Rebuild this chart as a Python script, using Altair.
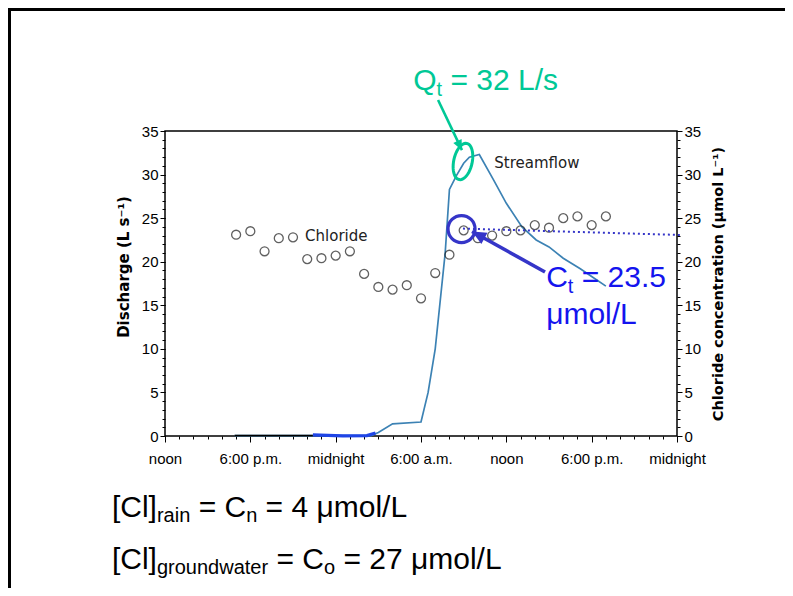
import math
import altair as alt
import pandas as pd

# ---------------- values ----------------
# hour 0 = noon of day 1, hour 36 = midnight of day 2
cl_hour = list(range(5, 32))
cl_conc = [23.1, 23.5, 21.2, 22.7, 22.8, 20.3, 20.4, 20.7, 21.2, 18.6,
           17.1, 16.8, 17.3, 15.8, 18.7, 20.8, 23.6, 22.7, 23.0, 23.5,
           23.6, 24.2, 23.9, 25.0, 25.2, 24.2, 25.2]

q_hour = [4.9, 14.5, 15.0, 16.0, 18.0, 18.5, 19.0, 19.7, 20.0, 20.5, 21.0,
          21.4, 22.1, 23.1, 24.0, 25.1, 26.1, 27.0, 28.0, 29.2, 30.0, 31.0]
q_flow = [0.05, 0.05, 0.4, 1.4, 1.6, 5.0, 10.0, 21.0, 28.3, 29.9, 31.3,
          32.0, 32.3, 29.4, 26.7, 24.0, 22.5, 21.7, 20.4, 19.2, 18.3, 17.2]

# low-flow trace as it appears: black part, then a thick blue part
base_hour = [4.9, 10.4]
base_flow = [0.05, 0.05]
hl_hour = [10.4, 12.5, 14.2, 14.8]
hl_flow = [0.12, 0.02, 0.05, 0.35]

x_ticks = [0, 6, 12, 18, 24, 30, 36]
x_labels = ["noon", "6:00 p.m.", "midnight", "6:00 a.m.", "noon", "6:00 p.m.", "midnight"]
y_ticks = [0, 5, 10, 15, 20, 25, 30, 35]

# annotation values and anchors (hour, value)
qt_value = 32
ct_value = 23.5
rain_c = 4
gw_c = 27
qt_at = (17.45, 39.7)
ct_at = (26.8, 17.1)
ct2_at = (26.8, 12.85)
line1_at = (-3.73, -9.35)
line2_at = (-3.73, -15.3)
chloride_lbl_at = (9.85, 22.4)
stream_lbl_at = (23.15, 30.75)
q_ellipse_at = (20.95, 31.5)
c_circle_at = (20.85, 23.75)
q_arrow = (19.2, 38.56, 20.88, 32.8)
c_arrow = (26.72, 18.82, 21.59, 23.47)
dotted = (20.95, 23.8, 36.2, 23.07)

# ---------------- styling ----------------
TEAL = "#00c896"
BLUE_DARK = "#3535c8"
BLUE_TXT = "#1414ee"
LINE_BLUE = "#3c82b4"
LAB_FONT = "Liberation Sans"
TITLE_FONT = "DejaVu Sans"
SLIDE_FONT = "Liberation Sans"

xs = alt.Scale(domain=[0, 36], nice=False, zero=False)
ys = alt.Scale(domain=[0, 35], nice=False, zero=False)

label_expr = "[" + ",".join("'" + s + "'" for s in x_labels) + "][round(datum.value / 6)]"

x_major = alt.Axis(values=x_ticks, labelExpr=label_expr, orient="bottom", tickSize=6,
                   labelPadding=9, labelFontSize=15, labelFont=LAB_FONT, domain=False,
                   title=None, labelFlush=False, labelOverlap=False)
x_minor = alt.Axis(values=list(range(0, 37)), orient="bottom", tickSize=3, labels=False,
                   domain=False, title=None)
y_left_major = alt.Axis(values=y_ticks, orient="left", tickSize=5, labelPadding=2,
                        labelFontSize=15, labelFont=LAB_FONT, domain=False,
                        title="Discharge (L s⁻¹)", titleFont=TITLE_FONT, titleFontSize=15,
                        titleFontWeight="bold", titlePadding=10, titleY=135.5)
y_left_minor = alt.Axis(values=list(range(0, 36)), orient="left", tickSize=3, labels=False,
                        domain=False, title=None)
y_right_major = alt.Axis(values=y_ticks, orient="right", tickSize=5, labelPadding=2,
                         labelFontSize=15, labelFont=LAB_FONT, domain=False,
                         title="Chloride concentration (µmol L⁻¹)", titleFont=TITLE_FONT,
                         titleFontSize=14.5, titleFontWeight="bold", titlePadding=11,
                         titleAngle=270, titleBaseline="top")
y_right_minor = alt.Axis(values=list(range(0, 36)), orient="right", tickSize=3, labels=False,
                         domain=False, title=None)


def X(f, axis=None):
    return alt.X(f"{f}:Q", scale=xs, axis=axis)


def Y(f, axis=None):
    return alt.Y(f"{f}:Q", scale=ys, axis=axis)


q_df = pd.DataFrame({"h": q_hour, "q": q_flow})
cl_df = pd.DataFrame({"h": cl_hour, "c": cl_conc})
base_df = pd.DataFrame({"h": base_hour, "q": base_flow})
hl_df = pd.DataFrame({"h": hl_hour, "q": hl_flow})

layers = []

# streamflow
layers.append(alt.Chart(q_df).mark_line(color=LINE_BLUE, strokeWidth=1.7).encode(
    x=X("h", x_major), y=Y("q", y_left_major)))
layers.append(alt.Chart(base_df).mark_line(color="black", strokeWidth=1.6).encode(
    x=X("h"), y=Y("q")))
layers.append(alt.Chart(hl_df).mark_line(color="#1f45e6", strokeWidth=3.2).encode(
    x=X("h"), y=Y("q")))
# minor ticks (invisible helper marks)
layers.append(alt.Chart(q_df).mark_point(opacity=0).encode(
    x=X("h", x_minor), y=Y("q", y_left_minor)))
# chloride
layers.append(alt.Chart(cl_df).mark_point(shape="circle", filled=False, size=80,
                                          color="#1e1e1e", strokeWidth=1.3).encode(
    x=X("h"), y=Y("c", y_right_major)))
layers.append(alt.Chart(cl_df).mark_point(opacity=0).encode(
    x=X("h"), y=Y("c", y_right_minor)))

# series labels
for (h, v), txt in [(chloride_lbl_at, "Chloride"), (stream_lbl_at, "Streamflow")]:
    layers.append(alt.Chart(pd.DataFrame({"h": [h], "v": [v], "t": [txt]})).mark_text(
        align="left", baseline="alphabetic", font="DejaVu Sans", fontSize=15, color="#222222").encode(
        x=X("h"), y=Y("v"), text="t:N"))

# dotted reference line
layers.append(alt.Chart(pd.DataFrame({"h": [dotted[0]], "v": [dotted[1]],
                                      "h2": [dotted[2]], "v2": [dotted[3]]})).mark_rule(
    color=BLUE_DARK, strokeWidth=2, strokeDash=[2, 3]).encode(
    x=X("h"), y=Y("v"), x2="h2:Q", y2="v2:Q"))

# ellipse around peak discharge
ell = "M" + " L".join(f"{0.5 * math.cos(a * math.pi / 24):.4f},{math.sin(a * math.pi / 24):.4f}"
                      for a in range(48)) + " Z"
layers.append(alt.Chart(pd.DataFrame({"h": [q_ellipse_at[0]], "v": [q_ellipse_at[1]]})).mark_point(
    shape=ell, filled=False, size=1369, angle=12, color=TEAL, strokeWidth=3, opacity=1).encode(
    x=X("h"), y=Y("v")))
# circle around C_t
layers.append(alt.Chart(pd.DataFrame({"h": [c_circle_at[0]], "v": [c_circle_at[1]]})).mark_point(
    shape="circle", filled=False, size=729, color=BLUE_DARK, strokeWidth=3.2, opacity=1).encode(
    x=X("h"), y=Y("v")))

# arrows
head = "M0,0 L0.45,1 L-0.45,1 Z"
for (h1, v1, h2, v2), col, w, hs, ang in [(q_arrow, TEAL, 2.6, 420, 154),
                                         (c_arrow, BLUE_DARK, 3.6, 800, 299)]:
    adf = pd.DataFrame({"h": [h1], "v": [v1], "h2": [h2], "v2": [v2]})
    layers.append(alt.Chart(adf).mark_rule(color=col, strokeWidth=w).encode(
        x=X("h"), y=Y("v"), x2="h2:Q", y2="v2:Q"))
    layers.append(alt.Chart(adf).mark_point(shape=head, filled=True, size=hs, angle=ang,
                                            color=col, opacity=1).encode(
        x=X("h2"), y=Y("v2")))

# composite texts with subscripts
AW = {"Q": .778, "t": .278, " ": .278, "=": .584, ".": .278, "L": .556, "/": .278, "s": .5,
      "C": .722, "[": .278, "l": .222, "]": .278, "μ": .576, "m": .833, "o": .556, "r": .333,
      "a": .556, "i": .222, "n": .556, "g": .556, "u": .556, "d": .556, "w": .722, "e": .556}


def tw(s, size):
    return sum(AW.get(ch, .556) for ch in s) * size


def add_text(anchor, parts, main, sub, drop, color):
    x = 0.0
    for txt, is_sub in parts:
        size = sub if is_sub else main
        lead = len(txt) - len(txt.lstrip(" "))
        x += lead * AW[" "] * size
        body = txt.strip(" ")
        layers.append(alt.Chart(pd.DataFrame({"h": [anchor[0]], "v": [anchor[1]], "t": [body]})).mark_text(
            align="left", baseline="alphabetic", font=SLIDE_FONT, fontSize=size,
            dx=x, dy=drop if is_sub else 0, color=color).encode(
            x=X("h"), y=Y("v"), text="t:N"))
        x += tw(body, size)


add_text(qt_at, [("Q", False), ("t", True), (f" = {qt_value} L/s", False)], 30, 20, 6, TEAL)
add_text(ct_at, [("C", False), ("t", True), (f" = {ct_value}", False)], 30, 20, 6, BLUE_TXT)
add_text(ct2_at, [("μmol/L", False)], 30, 20, 6, BLUE_TXT)
add_text(line1_at, [("[Cl]", False), ("rain", True), (" = C", False), ("n", True),
                    (f" = {rain_c} μmol/L", False)], 30, 20, 5, "black")
add_text(line2_at, [("[Cl]", False), ("groundwater", True), (" = C", False), ("o", True),
                    (f" = {gw_c} μmol/L", False)], 30, 20, 5, "black")

# slide frame (left and top edges)
one = pd.DataFrame({"a": [0]})
layers.append(alt.Chart(one).mark_rule(color="black", strokeWidth=3).encode(
    x=alt.value(-155.5), y=alt.value(-122), y2=alt.value(470)))
layers.append(alt.Chart(one).mark_rule(color="black", strokeWidth=3).encode(
    x=alt.value(-157), x2=alt.value(625), y=alt.value(-121.5)))

chart = alt.layer(*layers).resolve_axis(x="independent", y="independent").properties(
    width=512, height=305,
    autosize=alt.AutoSizeParams(type="none"),
    padding={"left": 157, "top": 123, "right": 108, "bottom": 152},
).configure_view(stroke="black", strokeWidth=1.5).configure_axis(
    grid=False, tickColor="black", labelColor="black", titleColor="black", tickWidth=1)

chart.save("out.html", embed_options={"renderer": "svg", "actions": False})
